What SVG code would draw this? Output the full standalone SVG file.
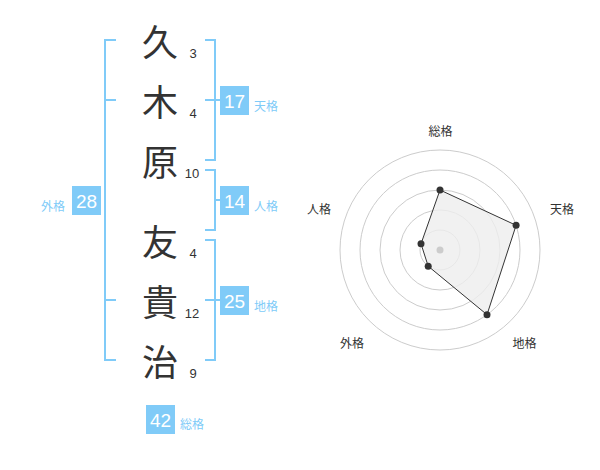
<svg xmlns="http://www.w3.org/2000/svg" width="600" height="470" viewBox="0 0 600 470">
<style>
.ch{font-family:"Noto Sans CJK JP","Noto Sans",sans-serif;font-size:36px;fill:#333;text-anchor:middle;dominant-baseline:central}
.num{font-family:"Liberation Sans","Noto Sans CJK JP",sans-serif;font-size:13px;fill:#333;text-anchor:middle;dominant-baseline:central}
.br{fill:none;stroke:#80cbf8;stroke-width:2}
.box{fill:#80cbf8}
.bt{font-family:"Liberation Sans","Noto Sans CJK JP",sans-serif;font-size:19px;fill:#fff;text-anchor:middle;dominant-baseline:central}
.lb{font-family:"Noto Sans CJK JP",sans-serif;font-size:12px;fill:#80cbf8;dominant-baseline:central}
.rg{fill:none;stroke:#ccc;stroke-width:1}
.rl{font-family:"Noto Sans CJK JP",sans-serif;font-size:12px;fill:#333;text-anchor:middle;dominant-baseline:central}
.dot{fill:#333}
</style>
<g id="chars">
<text class="ch" x="160" y="40">久</text>
<text class="ch" x="160" y="100">木</text>
<text class="ch" x="160" y="160">原</text>
<text class="ch" x="160" y="240">友</text>
<text class="ch" x="160" y="300">貴</text>
<text class="ch" x="160" y="360">治</text>
<text class="num" x="193" y="53">3</text>
<text class="num" x="193" y="113">4</text>
<text class="num" x="192" y="173">10</text>
<text class="num" x="193" y="253">4</text>
<text class="num" x="192" y="313">12</text>
<text class="num" x="193" y="373">9</text>
</g>
<g id="connectors">
<path class="br" d="M116,40 H105 V360 H116 M105,100 H116 M105,300 H116"/>
<path class="br" d="M205,40 H215 V160 H205 M205,100 H220"/>
<path class="br" d="M205,170 H215 V230 H205 M215,200 H220"/>
<path class="br" d="M205,240 H215 V360 H205 M205,300 H220"/>
</g>
<g id="tenkaku">
<rect class="box" x="220" y="86" width="29" height="29"/>
<text class="bt" x="234.5" y="101">17</text>
<text class="lb" x="254" y="105">天格</text>
</g>
<g id="jinkaku">
<rect class="box" x="220" y="186" width="29" height="29"/>
<text class="bt" x="234.5" y="201">14</text>
<text class="lb" x="254" y="205">人格</text>
</g>
<g id="chikaku">
<rect class="box" x="220" y="286" width="29" height="29"/>
<text class="bt" x="234.5" y="301">25</text>
<text class="lb" x="254" y="305">地格</text>
</g>
<g id="gaikaku">
<rect class="box" x="72" y="186" width="29" height="29"/>
<text class="bt" x="86.5" y="201">28</text>
<text class="lb" x="41" y="205">外格</text>
</g>
<g id="soukaku">
<rect class="box" x="146" y="405" width="29" height="29"/>
<text class="bt" x="160.5" y="420">42</text>
<text class="lb" x="180" y="423">総格</text>
</g>
<g id="radar">
<circle class="rg" cx="440" cy="250" r="20"/>
<circle class="rg" cx="440" cy="250" r="40"/>
<circle class="rg" cx="440" cy="250" r="60"/>
<circle class="rg" cx="440" cy="250" r="80"/>
<circle class="rg" cx="440" cy="250" r="100"/>
<polygon points="440,190 516.1,225.3 487,314.7 428.2,266.2 421,243.8" fill="#eee" fill-opacity="0.8" stroke="#333" stroke-width="1"/>
<circle cx="440" cy="250" r="3.5" fill="#ccc"/>
<circle class="dot" cx="440" cy="190" r="3.5"/>
<circle class="dot" cx="516.1" cy="225.3" r="3.5"/>
<circle class="dot" cx="487" cy="314.7" r="3.5"/>
<circle class="dot" cx="428.2" cy="266.2" r="3.5"/>
<circle class="dot" cx="421" cy="243.8" r="3.5"/>
<text class="rl" x="440.5" y="130">総格</text>
<text class="rl" x="562" y="208">天格</text>
<text class="rl" x="524.5" y="342">地格</text>
<text class="rl" x="352" y="342">外格</text>
<text class="rl" x="319" y="208">人格</text>
</g>
</svg>
